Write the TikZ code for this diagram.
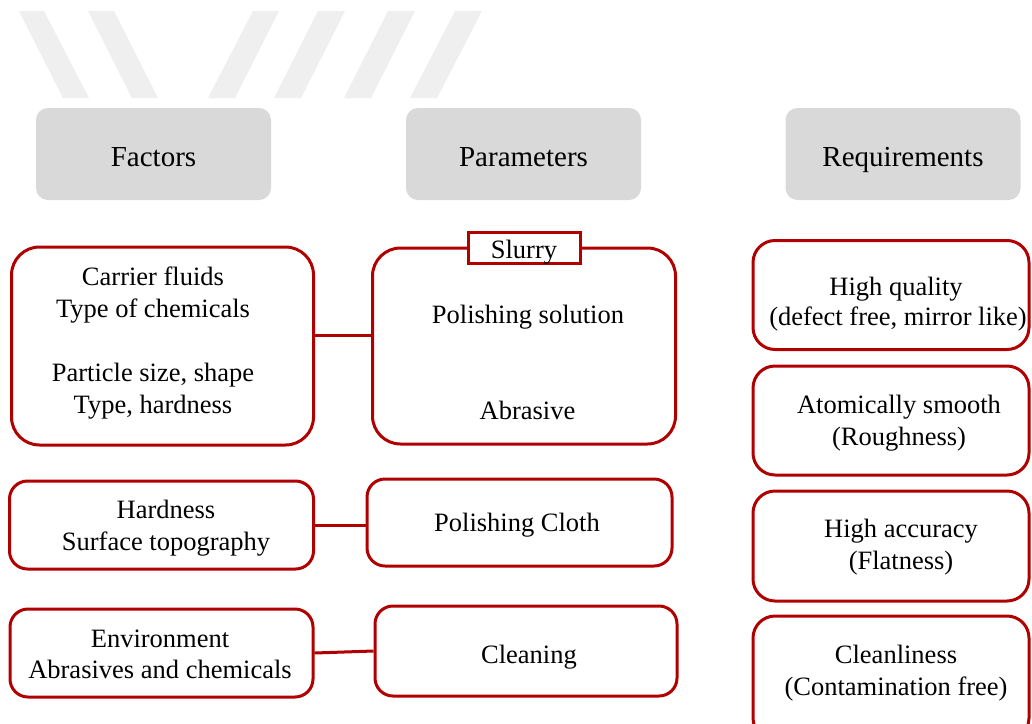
\documentclass[tikz,border=0pt]{standalone}
\usepackage{fontspec}
\setmainfont{Liberation Serif}
\newfontfamily\tnr{Liberation Serif}
\definecolor{boxred}{HTML}{B00000}
\definecolor{hdrgray}{HTML}{D9D9D9}
\definecolor{hdrshadow}{HTML}{CCCCCC}
\definecolor{stripe}{HTML}{EFEFEF}
\tikzset{
  hdr/.style={fill=hdrgray, draw=none, rounded corners=12pt, minimum width=235pt, minimum height=92pt, inner sep=0pt},
  hdrtxt/.style={font=\tnr\fontsize{29}{34}\selectfont, anchor=base, inner sep=0pt},
  rbox/.style={draw=boxred, line width=3pt, fill=white, rounded corners=#1, inner sep=0pt},
  rbox/.default=18pt,
  txt/.style={font=\tnr\fontsize{26.5}{32}\selectfont, anchor=base, inner sep=0pt},
  conn/.style={draw=boxred, line width=3pt},
  stripefill/.style={fill=stripe, draw=none}
}
\begin{document}
\begin{tikzpicture}[x=1pt,y=-1pt]
\useasboundingbox (0,0) rectangle (1032,723);
\begin{scope}
\clip (0,0) rectangle (1032,723);
\fill[white] (0,0) rectangle (1032,723);
% background stripes
\path[stripefill] (19,11) -- (44,11) -- (89,98) -- (63,98) -- cycle;
\path[stripefill] (88,11) -- (114,11) -- (158,98) -- (132,98) -- cycle;
\path[stripefill] (253,11) -- (279,11) -- (235,98) -- (208,98) -- cycle;
\path[stripefill] (318,11) -- (345,11) -- (301,98) -- (274,98) -- cycle;
\path[stripefill] (388,11) -- (415,11) -- (371,98) -- (344,98) -- cycle;
\path[stripefill] (455,11) -- (482,11) -- (437,98) -- (410,98) -- cycle;

% headers
\node[hdr] (hF) at (153.5,154) {};
\node[hdr] (hP) at (523.5,154) {};
\node[hdr] (hR) at (903,154) {};
\node[hdrtxt] (hFt) at (153.5,166) {Factors};
\node[hdrtxt] (hPt) at (523.5,166) {Parameters};
\node[hdrtxt] (hRt) at (903,166) {Requirements};

% factor boxes
\node[rbox=28pt, minimum width=302pt, minimum height=198pt] (f1) at (162.5,346) {};
\node[rbox, minimum width=304pt, minimum height=88pt] (f2) at (161.5,525) {};
\node[rbox, minimum width=303pt, minimum height=88pt] (f3) at (161.5,653) {};
\node[txt] (f1a) at (153,285) {Carrier fluids};
\node[txt] (f1b) at (153,317) {Type of chemicals};
\node[txt] (f1c) at (153,381) {Particle size, shape};
\node[txt] (f1d) at (153,413) {Type, hardness};
\node[txt] (f2a) at (166,518) {Hardness};
\node[txt] (f2b) at (166,550) {Surface topography};
\node[txt] (f3a) at (160,647) {Environment};
\node[txt] (f3b) at (160,678) {Abrasives and chemicals};

% parameter boxes
\node[rbox=28pt, minimum width=303pt, minimum height=196pt] (s) at (524,346) {};
\node[draw=boxred, line width=3pt, fill=white, minimum width=112pt, minimum height=31pt, inner sep=0pt] (sl) at (524,247.5) {};
\node[txt] (slt) at (524,258) {Slurry};
\node[txt] (s1) at (528,323) {Polishing solution};
\node[txt] (s2) at (527.5,419) {Abrasive};
\node[rbox, minimum width=305pt, minimum height=87pt] (pc) at (519.5,522.5) {};
\node[txt] (pct) at (517,531) {Polishing Cloth};
\node[rbox, minimum width=302pt, minimum height=90pt] (cl) at (526,651) {};
\node[txt] (clt) at (529,663) {Cleaning};

% requirement boxes
\node[rbox=22pt, minimum width=276pt, minimum height=109pt] (r1) at (891,295) {};
\node[rbox=22pt, minimum width=276pt, minimum height=109pt] (r2) at (891,420.5) {};
\node[rbox=22pt, minimum width=276pt, minimum height=110pt] (r3) at (891,546) {};
\node[rbox=22pt, minimum width=276pt, minimum height=124pt] (r4) at (891,678) {};
\node[txt] (r1a) at (896,295) {High quality};
\node[txt] (r1b) at (898,325) {(defect free, mirror like)};
\node[txt] (r2a) at (899,413) {Atomically smooth};
\node[txt] (r2b) at (899,445) {(Roughness)};
\node[txt] (r3a) at (901,537) {High accuracy};
\node[txt] (r3b) at (901,569) {(Flatness)};
\node[txt] (r4a) at (896,663) {Cleanliness};
\node[txt] (r4b) at (896,695) {(Contamination free)};

% connectors
\coordinate (c1) at (0,335);
\draw[conn] (f1.east |- c1) -- (s.west |- c1);
\draw[conn] (f2.east) -- (pc.west |- f2.east);
\draw[conn] (f3.east) -- (cl.west);
\end{scope}
\end{tikzpicture}
\end{document}
